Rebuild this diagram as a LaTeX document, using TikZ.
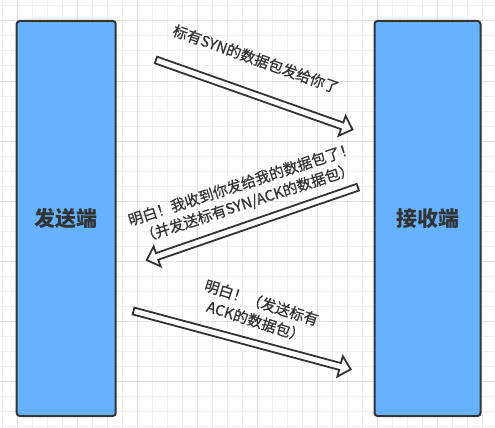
\documentclass[tikz,border=0pt]{standalone}
\usepackage{fontspec}
\setmainfont{Noto Sans CJK SC}
\newfontfamily\lblfont[FakeBold=0.6]{Noto Sans CJK SC}
\usetikzlibrary{calc}
\definecolor{boxblue}{HTML}{66B2FF}
\definecolor{ink}{HTML}{333333}
\definecolor{gridminor}{HTML}{F0F0F0}
\definecolor{gridmajor}{HTML}{E2E2E2}
\newcommand\hollowarrow[2]{%
  \coordinate (hb) at ($(#2)!11pt!(#1)$);
  \draw[hollow] ($(#1)!3.5pt!90:(#2)$) -- ($(hb)!3.5pt!90:(#2)$) -- ($(hb)!10.5pt!90:(#2)$) -- (#2)
     -- ($(hb)!10.5pt!-90:(#2)$) -- ($(hb)!3.5pt!-90:(#2)$) -- ($(#1)!3.5pt!-90:(#2)$) -- cycle;}
\begin{document}
\begin{tikzpicture}[x=1pt,y=-1pt,
  endbox/.style={draw=ink, line width=2pt, fill=boxblue, rounded corners=3pt, text=ink,
    font=\fontsize{21}{25}\selectfont\bfseries},
  hollow/.style={draw=ink, line width=1.8pt, fill=white, line join=miter},
  lbl/.style={text=ink, font=\lblfont\fontsize{14.8}{19.5}\selectfont, inner sep=0pt}]
\fill[white] (0,0) rectangle (495,428);
\useasboundingbox (0,0) rectangle (495,428);
% grid
\foreach \k in {0,...,32} {\draw[gridminor, line width=1pt] ({2.7+15*\k},0) -- ({2.7+15*\k},428);}
\foreach \k in {0,...,28} {\draw[gridminor, line width=1pt] (0,{6+15*\k}) -- (495,{6+15*\k});}
\foreach \k in {0,...,8} {\draw[gridmajor, line width=1pt] ({17.7+60*\k},0) -- ({17.7+60*\k},428);}
\foreach \k in {0,...,7} {\draw[gridmajor, line width=1pt] (0,{21+60*\k}) -- (495,{21+60*\k});}
% end boxes
\node[endbox, minimum width=99, minimum height=395] (snd) at (66.2,218.5) {发送端};
\node[endbox, minimum width=106, minimum height=395] (rcv) at (427.5,218.5) {接收端};
% arrows
\coordinate (a1) at (156,60);
\coordinate (b1) at (352.5,129.5);
\coordinate (a2) at (357.8,187.2);
\coordinate (b2) at (146.7,260);
\coordinate (a3) at (133.5,311);
\coordinate (b3) at (350.7,369.3);
\hollowarrow{a1}{b1}
\hollowarrow{a2}{b2}
\hollowarrow{a3}{b3}
% labels
\node[lbl, rotate=-19.5] (t1) at (256,59) {标有SYN的数据包发给你了};
\node[lbl, rotate=18, align=center] (t2) at (244.5,194) {明白！我收到你发给我的数据包了！\\（并发送标有SYN/ACK的数据包）};
\node[lbl, rotate=-17.5, align=center] (t3) at (258.7,311.9) {明白！（发送标有\\ACK的数据包）};
\end{tikzpicture}
\end{document}
